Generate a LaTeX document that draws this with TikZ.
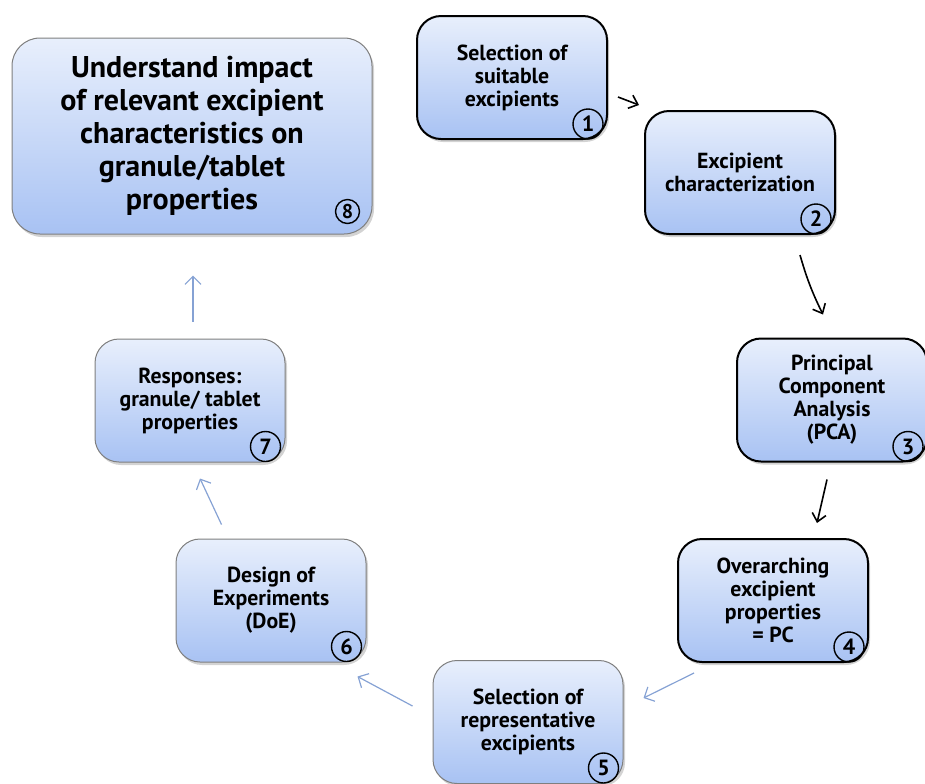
\documentclass[tikz,border=0pt]{standalone}
\usepackage{fontspec}
\setmainfont{PT Sans}
\usetikzlibrary{arrows.meta,shadows}
\definecolor{boxtop}{HTML}{E8EFFC}
\definecolor{boxbottom}{HTML}{A8C2F3}
\definecolor{flowblue}{HTML}{86A2D4}
\definecolor{edgegray}{HTML}{7F7F7F}
\tikzset{
    stage/.style={rectangle, rounded corners=12pt, top color=boxtop, bottom color=boxbottom,
        minimum width=95pt, minimum height=61.5pt, align=center,
        font=\fontsize{10.9}{11.5}\selectfont\bfseries,
        drop shadow={shadow xshift=1pt, shadow yshift=-1.5pt, opacity=0.35}},
    darkstage/.style={stage, draw=black, line width=1pt},
    lightstage/.style={stage, draw=edgegray, line width=0.5pt},
    stepnum/.style={circle, draw, line width=0.7pt, inner sep=0pt, minimum size=15pt,
        font=\fontsize{11}{11}\selectfont\bfseries},
    darkflow/.style={-{Straight Barb[length=4pt,width=7pt]}, line width=0.8pt},
    lightflow/.style={-{Straight Barb[length=4pt,width=8pt]}, draw=flowblue, line width=0.6pt}
}
\begin{document}
\begin{tikzpicture}[x=0.5pt, y=-0.5pt]
        \useasboundingbox (0,0) rectangle (925,783);
        \node[darkstage] (b1) at (512,77.5) {Selection of\\suitable\\excipients};
        \node[darkstage] (b2) at (740,172.5) {Excipient\\characterization};
        \node[darkstage] (b3) at (832,400) {Principal\\Component\\Analysis\\(PCA)};
        \node[darkstage] (b4) at (773,600.5) {Overarching\\excipient\\properties\\= PC};
        \node[lightstage] (b5) at (528,722) {Selection of\\representative\\excipients};
        \node[lightstage] (b6) at (271,600.5) {Design of\\Experiments\\(DoE)};
        \node[lightstage] (b7) at (190,400.5) {Responses:\\granule/ tablet\\properties};
        \node[lightstage, minimum width=180pt, minimum height=98pt, rounded corners=14pt,
            font=\fontsize{15}{16.5}\selectfont\bfseries] (b8) at (192,136)
            {Understand impact\\of relevant excipient\\characteristics on\\granule/tablet\\properties};
        \foreach \k in {1,...,7}
            \node[stepnum] (n\k) at ([shift={(-20,-16)}]b\k.south east) {\k};
        \node[stepnum, minimum size=12pt, font=\fontsize{10}{10}\selectfont\bfseries] (n8)
            at ([shift={(-25,-23)}]b8.south east) {8};
        \draw[darkflow] ([shift={(10,19.5)}]b1.east) -- ([shift={(-5,-5)}]b2.north west);
        \draw[darkflow] ([shift={(60,20)}]b2.south) to[bend right=5] ([shift={(-9,-23)}]b3.north);
        \draw[darkflow] ([shift={(-5,17)}]b3.south) -- ([shift={(44,-15)}]b4.north);
        \draw[lightflow] ([shift={(17,10)}]b4.south west) -- ([shift={(20,-24)}]b5.east);
        \draw[lightflow] ([shift={(-20,-16)}]b5.west) -- ([shift={(-9,14)}]b6.south east);
        \draw[lightflow] ([shift={(46,-14)}]b6.north west) -- ([shift={(10,16)}]b7.south);
        \draw[lightflow] ([shift={(3,-17)}]b7.north) -- ([shift={(1,41)}]b8.south);
\end{tikzpicture}
\end{document}
